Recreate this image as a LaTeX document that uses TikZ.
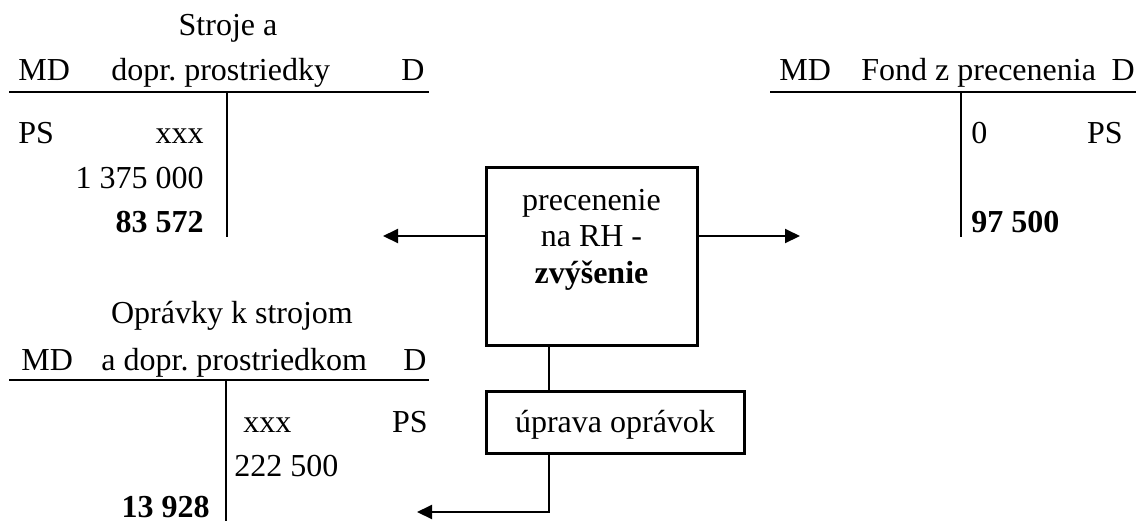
\documentclass[tikz,border=0pt]{standalone}
\usepackage{fontspec}
\setmainfont{Liberation Serif}
\usetikzlibrary{arrows.meta,positioning}
\frenchspacing

\begin{document}
\begin{tikzpicture}[x=0.5pt,y=-0.5pt,
  txt/.style={inner sep=0pt, font=\fontsize{16}{18.25}\selectfont},
  tline/.style={line width=1pt},
  opbox/.style={draw, line width=1.5pt, inner sep=0pt},
  arr/.style={-{Triangle[length=7.5pt,width=7pt]}, line width=1pt}]
  \useasboundingbox (0,0) rectangle (1136,521);

  % Stroje a dopr. prostriedky
  \node[txt, anchor=base] (sTitle) at (228,35) {Stroje a};
  \node[txt, anchor=base west] (sMD) at (18,80) {MD};
  \node[txt, anchor=base west] (sName) at (111,80) {dopr. prostriedky};
  \node[txt, anchor=base east] (sD) at (425,80) {D};
  \coordinate (sL) at (9,92);
  \coordinate (sR) at (429,92);
  \coordinate (sTop) at (227,92);
  \coordinate (sBot) at (227,237);
  \draw[tline] (sL) -- (sR);
  \draw[tline] (sTop) -- (sBot);
  \node[txt, anchor=base west] (sPS) at (18,143) {PS};
  \node[txt, anchor=base east] (sPSval) at (204,143) {xxx};
  \node[txt, anchor=base east] (sVal) at (204,188) {1 375 000};
  \node[txt, anchor=base east] (sInc) at (204,232) {\textbf{83 572}};

  % Fond z precenenia
  \node[txt, anchor=base west] (fMD) at (779,80) {MD};
  \node[txt, anchor=base west] (fName) at (861,80) {Fond z precenenia};
  \node[txt, anchor=base east] (fD) at (1135,80) {D};
  \coordinate (fL) at (770,92);
  \coordinate (fR) at (1136,92);
  \coordinate (fTop) at (961,92);
  \coordinate (fBot) at (961,237);
  \draw[tline] (fL) -- (fR);
  \draw[tline] (fTop) -- (fBot);
  \node[txt, anchor=base west] (fPSval) at (971,143) {0};
  \node[txt, anchor=base east] (fPS) at (1123,143) {PS};
  \node[txt, anchor=base west] (fInc) at (971,232) {\textbf{97 500}};

  % Opravky k strojom a dopr. prostriedkom
  \node[txt, anchor=base] (oTitle) at (232,323) {Oprávky k strojom};
  \node[txt, anchor=base west] (oMD) at (21,370) {MD};
  \node[txt, anchor=base west] (oName) at (101,370) {a dopr. prostriedkom};
  \node[txt, anchor=base east] (oD) at (427,370) {D};
  \coordinate (oL) at (9,380);
  \coordinate (oR) at (429,380);
  \coordinate (oTop) at (226,380);
  \coordinate (oBot) at (226,521);
  \draw[tline] (oL) -- (oR);
  \draw[tline] (oTop) -- (oBot);
  \node[txt, anchor=base west] (oPSval) at (243,432) {xxx};
  \node[txt, anchor=base east] (oPS) at (428,432) {PS};
  \node[txt, anchor=base west] (oVal) at (234,476) {222 500};
  \node[txt, anchor=base east] (oInc) at (210,517) {\textbf{13 928}};

  % operacie
  \node[opbox, minimum width=105.5pt, minimum height=89pt] (reval) at (591.5,256) {};
  \node[txt, align=center, anchor=base] (revalText) at (591.5,283) {precenenie\\na RH -\\\textbf{zvýšenie}};
  \node[opbox, minimum width=129pt, minimum height=31pt] (adj) at (615,422) {};
  \node[txt, anchor=base] (adjText) at (615,432) {úprava oprávok};

  \coordinate (leftTip) at (383,236);
  \coordinate (rightTip) at (800,236);
  \coordinate (link) at (549,0);
  \coordinate (bottomTip) at (417,512);
  \draw[arr] (reval.west |- leftTip) -- (leftTip);
  \draw[arr] (reval.east |- rightTip) -- (rightTip);
  \draw[tline] (reval.south -| link) -- (adj.north -| link);
  \draw[arr] (adj.south -| link) |- (bottomTip);
\end{tikzpicture}
\end{document}
